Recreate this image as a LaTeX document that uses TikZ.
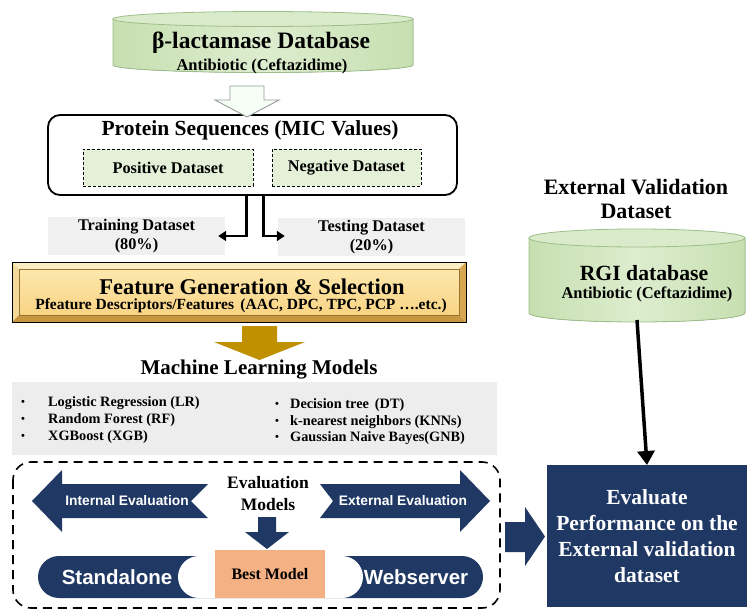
\documentclass[tikz,border=0pt]{standalone}
\usepackage{fontspec}
\setmainfont{Liberation Serif}
\newfontfamily\arialfont{Liberation Sans}
\usetikzlibrary{arrows.meta,calc}

\definecolor{navy}{RGB}{31,56,100}
\definecolor{cylside}{HTML}{C6DFB0}
\definecolor{cylmid}{HTML}{DDEDCF}
\definecolor{cyllidc}{HTML}{D9EBCA}
\definecolor{cylrim}{HTML}{9DBE8A}
\definecolor{dsfill}{HTML}{E4F1D8}
\definecolor{labelgray}{HTML}{F0F0F0}
\definecolor{mlgray}{HTML}{EDEDED}
\definecolor{goldarrow}{HTML}{BF9000}
\definecolor{bestorange}{HTML}{F4B183}

% database drum: left x, right x, lid centre y, base centre y, ellipse y radius
\newcommand\dbdrum[5]{%
  \pgfmathsetmacro\drumcx{(#1+#2)/2}%
  \pgfmathsetmacro\drumrx{(#2-#1)/2}%
  \fill[cylbody] (#1,#3) -- (#1,#4)
     arc[start angle=180,end angle=0,x radius=\drumrx,y radius=#5] -- (#2,#3) -- cycle;
  \draw[cylline] (#1,#3) -- (#1,#4)
     arc[start angle=180,end angle=0,x radius=\drumrx,y radius=#5] -- (#2,#3);
  \filldraw[cyllid] (\drumcx,#3) ellipse[x radius=\drumrx,y radius=#5];
}

\tikzset{
  cylbody/.style={left color=cylside,right color=cylside,middle color=cylmid},
  cylline/.style={draw=cylrim,line width=0.8pt},
  cyllid/.style={fill=cyllidc,draw=cylrim,line width=0.8pt},
  txt/.style={font=\bfseries\fontsize{#1}{#1}\selectfont,inner sep=0pt},
  mltxt/.style={font=\bfseries\fontsize{14.3}{14.3}\selectfont,inner sep=0pt,anchor=west},
  sanswhite/.style={font=\arialfont\bfseries\fontsize{#1}{#1}\selectfont,text=white,inner sep=0pt},
  dsbox/.style={draw,dashed,dash pattern=on 3pt off 2pt,line width=0.8pt,fill=dsfill,
     minimum height=37,inner sep=0pt,font=\bfseries\fontsize{16.3}{16.3}\selectfont},
  graylabel/.style={fill=labelgray,minimum height=38,inner sep=0pt,align=center,
     font=\bfseries\fontsize{16.3}{18.5}\selectfont},
  splitarrow/.style={line width=2.6pt,-{Triangle[length=8pt,width=10pt]}},
  navyblock/.style={fill=navy},
  ghost/.style={inner sep=0pt,outer sep=0pt}
}

\begin{document}
\begin{tikzpicture}[x=1pt,y=-1pt]
\useasboundingbox (0,0) rectangle (748,610);
\fill[white] (0,0) rectangle (748,610);

% ---- beta-lactamase database drum
\dbdrum{113}{413}{19}{65}{7.5}
\node[ghost,minimum width=300,minimum height=61] (lacdrum) at (263,42) {};
\node[txt=23.5] (lacdb) at (261,43) {β-lactamase Database};
\node[txt=16.5] (lacsub) at (262,66) {Antibiotic (Ceftazidime)};

% ---- protein sequences panel
\node[draw,line width=1.8pt,rounded corners=12pt,minimum width=409,minimum height=80,
      fill=white,ghost] (protbox) at (252.5,155) {};
\node[txt=21.5] (prot) at (250,130) {Protein Sequences (MIC Values)};
\node[dsbox,minimum width=170] (pos) at (168,167.5) {Positive Dataset};
\node[dsbox,minimum width=149] (neg) at (346.5,167.5) {Negative Dataset};

% hollow arrow from the database into the panel
\filldraw[fill=green!4!white,draw=gray!80,line width=0.9pt]
  (230,86) -- (264,86) -- (264,100) -- (279,100) -- (247,117) -- (215,100) -- (230,100) -- cycle;

% ---- training / testing split
\node[graylabel,minimum width=177] (train) at (136.5,236) {Training Dataset\\(80\%)};
\node[graylabel,minimum width=187] (test) at (371.5,237) {Testing Dataset\\(20\%)};
\draw[splitarrow] ([xshift=-6pt]protbox.south) |- ([xshift=-7pt]train.east);
\draw[splitarrow] ([xshift=11pt]protbox.south) |- ([xshift=7pt,yshift=1pt]test.west);

% ---- feature generation bevelled panel
\fill[fill={rgb,255:red,252;green,236;blue,196}] (12,262) -- (466,262) -- (459,269) -- (19,269) -- cycle;
\fill[fill={rgb,255:red,243;green,217;blue,154}] (12,262) -- (19,269) -- (19,315) -- (12,322) -- cycle;
\fill[fill={rgb,255:red,200;green,150;blue,60}] (12,322) -- (19,315) -- (459,315) -- (466,322) -- cycle;
\fill[fill={rgb,255:red,216;green,168;blue,80}] (466,262) -- (466,322) -- (459,315) -- (459,269) -- cycle;
\shade[top color={rgb,255:red,253;green,232;blue,173},bottom color={rgb,255:red,249;green,211;blue,132}]
  (19,269) rectangle (459,315);
\draw[line width=0.4pt,draw={rgb,255:red,150;green,115;blue,50}] (19,269) rectangle (459,315);
\draw[line width=0.9pt] (12,262) rectangle (466,322);
\node[ghost,minimum width=454,minimum height=60] (featbox) at (239,292) {};
\node[txt=22.5] (feat) at (252,287) {Feature Generation \& Selection};
\node[txt=15.5] (featsub) at (241,306) {Pfeature Descriptors/Features\, (AAC, DPC, TPC, PCP ….etc.)};

% gold arrow into the model list
\fill[goldarrow] (242,326) -- (277,326) -- (277,342) -- (305,342) -- (259.5,360) -- (214,342) -- (242,342) -- cycle;

% ---- machine learning models
\node[txt=21] (mltitle) at (259,370) {Machine Learning Models};
\fill[mlgray] (12,382) rectangle (497,455);
\node[ghost,minimum width=485,minimum height=73] (mlbox) at (254.5,418.5) {};
\foreach \yy/\name/\lbl in {403/lr/{Logistic Regression (LR)},420/rf/{Random Forest (RF)},437/xgb/{XGBoost (XGB)}}{
  \node[txt=11] at (23,\yy) {\textbullet};
  \node[mltxt] (\name) at (48,\yy) {\lbl};
}
\foreach \yy/\name/\lbl in {405/dt/{Decision tree\, (DT)},422/knn/{k-nearest neighbors (KNNs)},438/gnb/{Gaussian Naive Bayes(GNB)}}{
  \node[txt=11] at (277,\yy) {\textbullet};
  \node[mltxt] (\name) at (290,\yy) {\lbl};
}

% ---- evaluation panel
\draw[line width=1.6pt,dash pattern=on 9pt off 6pt,rounded corners=18pt] (13,462) rectangle (500,608);
\node[ghost,minimum width=487,minimum height=146] (evalpanel) at (256.5,535) {};

\fill[navyblock] (32,501) -- (62,470) -- (62,484) -- (208,484) -- (191,501) -- (208,518)
  -- (62,518) -- (62,532) -- cycle;
\fill[navyblock] (490,501) -- (460,470) -- (460,484) -- (320,484) -- (333,501) -- (320,518)
  -- (460,518) -- (460,532) -- cycle;
\node[sanswhite=13.8] (intev) at (127,501) {Internal Evaluation};
\node[sanswhite=13.8] (extev) at (403,501) {External Evaluation};
\node[align=center,ghost,font=\bfseries\fontsize{17.5}{22}\selectfont] (evmodels) at (268,494) {Evaluation\\Models};

% small arrow down to the best model
\fill[navyblock] (258,517) -- (276,517) -- (276,532) -- (289,532) -- (267,549) -- (245,532) -- (258,532) -- cycle;

% deployment bar
\fill[navy,rounded corners=21pt] (38,556) rectangle (483,598);
\fill[white,rounded corners=21pt] (178,556) rectangle (363,598);
\node[fill=bestorange,minimum width=110,minimum height=48,ghost,
      font=\bfseries\fontsize{16}{16}\selectfont] (best) at (270,574) {Best Model};
\node[sanswhite=20.5] (standalone) at (117,577) {Standalone};
\node[sanswhite=20.5] (webserver) at (416,577) {Webserver};

% ---- external validation dataset
\node[align=center,ghost,font=\bfseries\fontsize{22}{24}\selectfont] (extval) at (636,199) {External Validation\\Dataset};
\dbdrum{529}{745}{238}{313}{9}
\node[ghost,minimum width=216,minimum height=93] (rgidrum) at (637,275.5) {};
\node[txt=21.7] (rgi) at (644,273) {RGI database};
\node[txt=16.5] (rgisub) at (647,294) {Antibiotic (Ceftazidime)};

% ---- final evaluation
\node[fill=navy,minimum width=200,minimum height=142,ghost,text=white,align=center,
      font=\bfseries\fontsize{21.5}{26}\selectfont] (evalbox) at (647,536)
      {Evaluate\\Performance on the\\External validation\\dataset};
\draw[line width=3.5pt,-{Triangle[length=14pt,width=17pt]}] ([yshift=2pt]rgidrum.south) -- (evalbox.north);

% block arrow from the panel to the final evaluation
\fill[navyblock] (505,522) -- (525,522) -- (525,507) -- (545,536.5) -- (525,566) -- (525,552) -- (505,552) -- cycle;
\end{tikzpicture}
\end{document}
